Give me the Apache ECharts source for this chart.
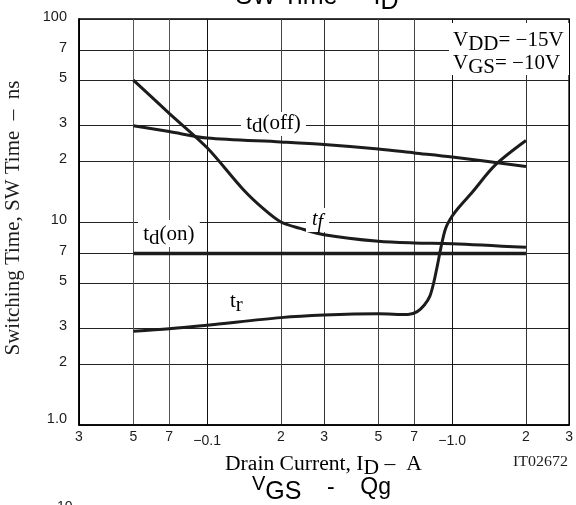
<!DOCTYPE html>
<html>
<head>
<meta charset="utf-8">
<script src="https://cdn.jsdelivr.net/npm/echarts@6/dist/echarts.min.js"></script>
<style>
  html, body { margin: 0; padding: 0; background: #fff; }
  #chart { width: 576px; height: 505px; }
</style>
</head>
<body>
<div id="chart"></div>
<script>
// Tick positions and their printed labels
const xTickValues = [0.03, 0.05, 0.07, 0.1, 0.2, 0.3, 0.5, 0.7, 1, 2, 3];
const xTickLabels = ['3', '5', '7', '\u22120.1', '2', '3', '5', '7', '\u22121.0', '2', '3'];
const yTickValues = [1, 2, 3, 5, 7, 10, 20, 30, 50, 70, 100];
const yTickLabels = ['1.0', '2', '3', '5', '7', '10', '2', '3', '5', '7', '100'];

// Switching time curves: drain current (A, magnitude) vs time (ns)
const tdOnCurrent = [0.05, 2];
const tdOnTime = [7, 7];

const tdOffCurrent = [0.05, 0.07, 0.1, 0.2, 0.3, 0.5, 0.7, 1, 2];
const tdOffTime = [29.8, 27.9, 25.9, 24.8, 24.1, 22.9, 21.9, 20.9, 18.75];

const tfCurrent = [0.05, 0.07, 0.1, 0.14, 0.17, 0.2, 0.24, 0.3, 0.5, 0.7, 1, 2];
const tfTime = [50, 34.3, 23.2, 14.5, 11.6, 10, 9.3, 8.66, 8.03, 7.88, 7.82, 7.5];

const trCurrent = [0.05, 0.07, 0.1, 0.2, 0.3, 0.5, 0.66, 0.72, 0.77, 0.81, 0.84, 0.87, 0.9, 0.94, 1.0, 1.07, 1.2, 1.5, 2];
const trTime = [2.9, 2.98, 3.1, 3.38, 3.48, 3.53, 3.5, 3.62, 3.9, 4.3, 5.0, 6.1, 7.5, 9.3, 10.7, 11.9, 13.9, 19.1, 25.2];

const zip = (xs, ys) => xs.map((x, i) => [x, ys[i]]);

function labelFor(values, labels, v) {
  const i = values.findIndex(t => Math.abs(Math.log10(t) - Math.log10(v)) < 1e-6);
  return i < 0 ? '' : labels[i];
}

const SERIF = '"Liberation Serif", "Times New Roman", serif';
const SANS = '"Liberation Sans", Arial, sans-serif';
const INK = '#1c1c1c';

const chart = echarts.init(document.getElementById('chart'), null, { renderer: 'canvas' });

function curve(name, xs, ys, width) {
  return {
    name: name,
    type: 'line',
    data: zip(xs, ys),
    showSymbol: false,
    smooth: 0.3,
    lineStyle: { color: INK, width: width },
    emphasis: { disabled: true },
    z: 3
  };
}

// rich-text styles: main glyphs and lowered subscript glyphs
function serifRich(size, lh, drop, italic) {
  const fs = italic ? 'italic' : 'normal';
  return {
    m: { fontFamily: SERIF, fontSize: size, lineHeight: lh, verticalAlign: 'top', color: INK, fontStyle: fs },
    s: { fontFamily: SERIF, fontSize: size, lineHeight: lh, verticalAlign: 'top', color: INK, padding: [drop, 0, 0, 0], fontStyle: fs }
  };
}

function richText(x, y, text, rich, opts) {
  opts = opts || {};
  const style = { text: text, rich: rich, align: opts.align || 'left', verticalAlign: 'top' };
  if (opts.bg) { style.backgroundColor = '#fff'; style.padding = opts.bg; }
  return { type: 'text', x: x, y: y, z: 5, silent: true, scaleX: opts.scaleX || 1, style: style };
}

const xGridColors = ['#000', '#555', '#555', '#111', '#444', '#333', '#444', '#444', '#111', '#333', '#000'];

const sansRich = (size, lh, drop) => ({
  m: { fontFamily: SANS, fontSize: size, lineHeight: lh, verticalAlign: 'top', color: INK },
  s: { fontFamily: SANS, fontSize: size, lineHeight: lh, verticalAlign: 'top', color: INK, padding: [drop, 0, 0, 0] }
});

const option = {
  animation: false,
  backgroundColor: '#fff',
  grid: { left: 79, top: 19, right: 6, bottom: 80, show: true, borderColor: '#000', borderWidth: 1.5, backgroundColor: 'transparent' },
  xAxis: {
    type: 'log', logBase: 10, min: 0.03, max: 3,
    axisLine: { show: true, onZero: false, lineStyle: { color: '#000', width: 1.5 } },
    axisTick: { show: false, customValues: xTickValues },
    minorTick: { show: false },
    splitLine: { show: true, lineStyle: { color: xGridColors, width: 1 } },
    axisLabel: {
      customValues: xTickValues,
      margin: 5,
      fontFamily: SANS, fontSize: 14, color: INK,
      formatter: v => {
        const t = labelFor(xTickValues, xTickLabels, v);
        return t.charAt(0) === '\u2212' ? '{low|' + t + '}' : t;
      },
      rich: { low: { fontFamily: SANS, fontSize: 14, color: INK, padding: [4, 0, 0, 0] } }
    }
  },
  yAxis: {
    type: 'log', logBase: 10, min: 1, max: 100,
    axisLine: { show: true, onZero: false, lineStyle: { color: '#000', width: 1.5 } },
    axisTick: { show: false, customValues: yTickValues },
    minorTick: { show: false },
    splitLine: { show: true, lineStyle: { color: '#222', width: 1 } },
    axisLabel: {
      customValues: yTickValues,
      margin: 12,
      fontFamily: SANS, fontSize: 14.5, color: INK,
      formatter: v => {
        const t = labelFor(yTickValues, yTickLabels, v);
        return t === '1.0' ? '{up|' + t + '}' : '{n|' + t + '}';
      },
      rich: {
        n: { fontFamily: SANS, fontSize: 14.5, color: INK, padding: [0, 0, 4, 0] },
        up: { fontFamily: SANS, fontSize: 14.5, color: INK, padding: [0, 0, 12, 0] }
      }
    }
  },
  series: [
    curve('td(on)', tdOnCurrent, tdOnTime, 3.6),
    curve('td(off)', tdOffCurrent, tdOffTime, 3),
    curve('tf', tfCurrent, tfTime, 3),
    curve('tr', trCurrent, trTime, 3)
  ],
  graphic: {
    elements: [
      // chart title, running off the top edge
      richText(317, -15, '{m|SW Time  -  I}{s|D}', sansRich(25, 26, 5), { align: 'center' }),
      // test conditions box
      { type: 'rect', z: 4, silent: true, shape: { x: 449, y: 23, width: 120, height: 52 }, style: { fill: '#fff' } },
      richText(453, 31, '{m|V}{s|DD}{m|= \u221215V}\n{m|V}{s|GS}{m|= \u221210V}', serifRich(20, 23, 3.5), { scaleX: 1.05 }),
      // curve labels
      richText(241, 112, '{m|t}{s|d}{m|(off)}', serifRich(20, 22, 3), { scaleX: 1.05, bg: [2, 5, 0, 5] }),
      richText(138, 220, '{m|t}{s|d}{m|(on)}', serifRich(20, 22, 4), { scaleX: 1.05, bg: [5, 5, 0, 5] }),
      richText(306, 208, '{m|t}{s|f}', serifRich(20, 22, 3, true), { bg: [2, 6, 0, 6] }),
      richText(230, 292, '{m|t}{s|r}', serifRich(20, 22, 4), { scaleX: 1.05 }),
      // axis titles
      richText(225, 455, '{m|Drain Current, I}{s|D}{m| \u2013  A}', serifRich(20, 22, 3.5), { scaleX: 1.08 }),
      {
        type: 'text', x: 513, y: 455, z: 5, silent: true, scaleX: 1.1,
        style: { text: 'IT02672', fontFamily: SERIF, fontSize: 14.5, fill: INK, align: 'left', verticalAlign: 'top' }
      },
      {
        type: 'text', z: 5, silent: true, x: 15, y: 218, rotation: Math.PI / 2, scaleX: 1.05,
        style: { text: 'Switching Time, SW Time  \u2013  ns', fontFamily: SERIF, fontSize: 20, fill: INK, align: 'center', verticalAlign: 'top', y: -11 }
      },
      // heading of the following chart, cut by the bottom edge
      {
        type: 'text', z: 5, silent: true, x: 252, y: 474,
        style: {
          text: '{v|V}{g|GS}{m|    -    Qg}', align: 'left', verticalAlign: 'top',
          rich: {
            v: { fontFamily: SANS, fontSize: 20, lineHeight: 24, verticalAlign: 'top', color: INK },
            g: { fontFamily: SANS, fontSize: 25, lineHeight: 24, verticalAlign: 'top', color: INK, padding: [6, 0, 0, 0] },
            m: { fontFamily: SANS, fontSize: 23, lineHeight: 24, verticalAlign: 'top', color: INK, padding: [2, 0, 0, 0] }
          }
        }
      },
      {
        type: 'text', z: 5, silent: true, x: 57, y: 500,
        style: { text: '10', fontFamily: SANS, fontSize: 14, fill: INK, align: 'left', verticalAlign: 'top' }
      }
    ]
  }
};

chart.setOption(option);
</script>
</body>
</html>
